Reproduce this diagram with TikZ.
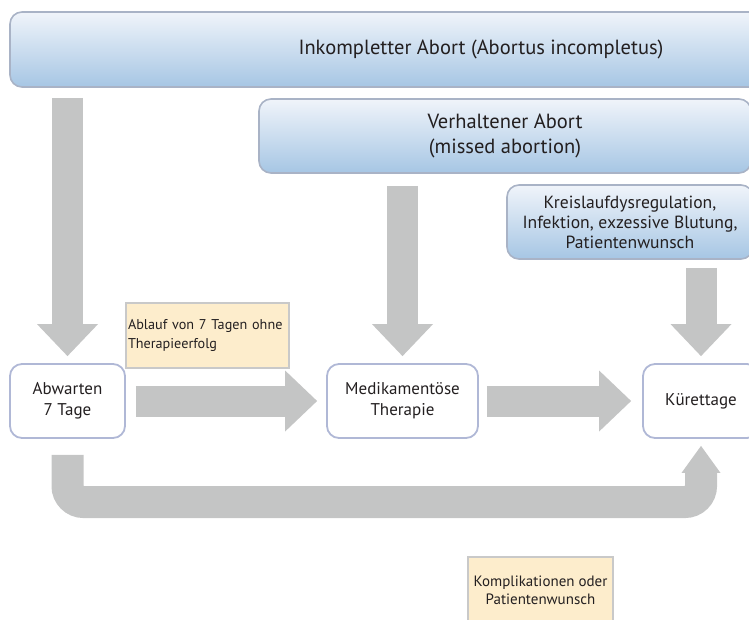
\documentclass[tikz,border=0pt]{standalone}
\usepackage{fontspec}
\setmainfont{PT Sans}
\usetikzlibrary{arrows.meta,calc}
\definecolor{arrowgray}{HTML}{C4C5C5}
\definecolor{topA}{HTML}{F0F4FA}
\definecolor{topB}{HTML}{A6C6E4}
\definecolor{topborder}{HTML}{A9B3C6}
\definecolor{nodeborder}{HTML}{B0B8D6}
\definecolor{noteyellow}{HTML}{FDEDCC}
\definecolor{noteborder}{HTML}{C9C9C9}
\definecolor{txt}{HTML}{231F20}
\begin{document}
\begin{tikzpicture}[x=1pt,y=-1pt,
  topbox/.style={draw=topborder, line width=1.6pt, rounded corners=12pt,
    top color=topA, bottom color=topB, text=txt, align=center, inner sep=0pt,
    font=\fontsize{20.5}{25}\selectfont},
  procbox/.style={draw=nodeborder, line width=1.8pt, fill=white, rounded corners=12pt,
    align=center, minimum height=74pt, inner sep=0pt, text=txt,
    font=\fontsize{17}{21}\selectfont},
  notebox/.style={draw=noteborder, line width=1.8pt, fill=noteyellow, inner xsep=2pt,
    inner ysep=0pt, text=txt},
  garrow/.style={draw=arrowgray, line width=31pt,
    -{Triangle[length=32pt,width=61pt,line width=0pt]}}
]
\useasboundingbox (0,0) rectangle (749,619);
\clip (0,0) rectangle (749,619);

\node[topbox, minimum width=942pt, minimum height=75pt] (inc) at (481,49.5)
  {Inkompletter Abort (Abortus incompletus)};
\node[topbox, minimum width=492pt, minimum height=74pt] (ver) at (505,136)
  {Verhaltener Abort\\(missed abortion)};
\node[topbox, font=\fontsize{17.6}{20}\selectfont, minimum width=246pt, minimum height=74pt] (kre) at (630,222)
  {Kreislaufdysregulation,\\Infektion, exzessive Blutung,\\Patientenwunsch};

\node[procbox, minimum width=115pt] (abw) at (67.5,401) {Abwarten\\7 Tage};
\node[procbox, minimum width=151pt] (med) at (402.5,401) {Medikamentöse\\Therapie};
\node[procbox, minimum width=116pt] (kur) at (701,401) {Kürettage};

\draw[garrow] ([yshift=-10pt]inc.south -| abw.north) -- ([yshift=7pt]abw.north);
\draw[garrow] ([yshift=-12pt]ver.south -| med.north) -- ([yshift=7pt]med.north);
\draw[garrow] ([yshift=-8pt]kre.south -| kur.north) -- ([yshift=7pt]kur.north);
\draw[garrow] ([xshift=10pt]abw.east) -- ([xshift=-9pt]med.west);
\draw[garrow] ([xshift=8pt]med.east) -- ([xshift=-11pt]kur.west);

\coordinate (ub) at (0,502);
\draw[garrow, line width=32pt, rounded corners=16pt,
  -{Triangle[length=27pt,width=39pt,line width=0pt]}]
  ([yshift=-16pt]abw.south) -- (abw.south |- ub) -| ([yshift=-7pt]kur.south);

\node[notebox, font=\fontsize{14.2}{19}\selectfont, minimum height=65pt, text width=159pt, align=left] (n1) at (207.5,335.5)
  {Ablauf von 7 Tagen ohne\\Therapieerfolg};
\node[notebox, font=\fontsize{15}{18}\selectfont, minimum width=145pt, minimum height=66pt, align=center] (n2) at (540.5,590)
  {Komplikationen oder\\Patientenwunsch};
\end{tikzpicture}
\end{document}
